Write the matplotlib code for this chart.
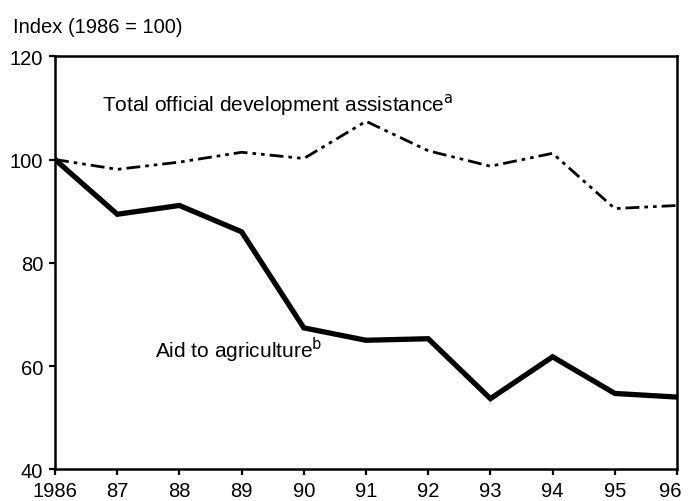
import matplotlib.pyplot as plt
import matplotlib.transforms as mtransforms

plt.rcParams['font.family'] = ['Liberation Sans', 'DejaVu Sans']

years = [1986, 1987, 1988, 1989, 1990, 1991, 1992, 1993, 1994, 1995, 1996]
year_labels = ['1986', '87', '88', '89', '90', '91', '92', '93', '94', '95', '96']
oda = [100, 98.1, 99.5, 101.4, 100.2, 107.4, 101.7, 98.7, 101.2, 90.5, 91.1]
agri = [100, 89.4, 91.1, 86.0, 67.4, 65.0, 65.3, 53.7, 61.8, 54.7, 54.0]
y_ticks = [40, 60, 80, 100, 120]

fig = plt.figure(figsize=(6.88, 5.02), dpi=100)
ax = fig.add_axes([0.080, 0.063, 0.904, 0.823])

# total ODA: thin dash-dot-dot line
ax.plot(years, oda, color='black', linewidth=2.0,
        linestyle=(0, (5, 1.8, 1.3, 1.8, 1.3, 1.8)))
# aid to agriculture: heavy solid line
ax.plot(years, agri, color='black', linewidth=3.8, solid_joinstyle='miter')

ax.set_xlim(1986, 1996)
ax.set_ylim(40, 120)
ax.set_xticks(years)
ax.set_xticklabels(year_labels)
ax.set_yticks(y_ticks)

for s in ax.spines.values():
    s.set_linewidth(1.8)
ax.tick_params(direction='out', length=4.5, width=1.6, labelsize=14.5, pad=4)

# last label sits a touch left so it stays inside the figure
last = ax.get_xticklabels()[-1]
last.set_transform(last.get_transform() +
                   mtransforms.ScaledTranslation(-5 / 72, 0, fig.dpi_scale_trans))

ax.text(1986.75, 110.7, 'Total official development assistance$^{\\mathrm{a}}$',
        fontsize=15, va='center', ha='left')
ax.text(1987.6, 63.2, 'Aid to agriculture$^{\\mathrm{b}}$',
        fontsize=15, va='center', ha='left')

fig.text(0.019, 0.946, 'Index (1986 = 100)', fontsize=14.5, va='center', ha='left')

plt.savefig('out.png', dpi=100)
